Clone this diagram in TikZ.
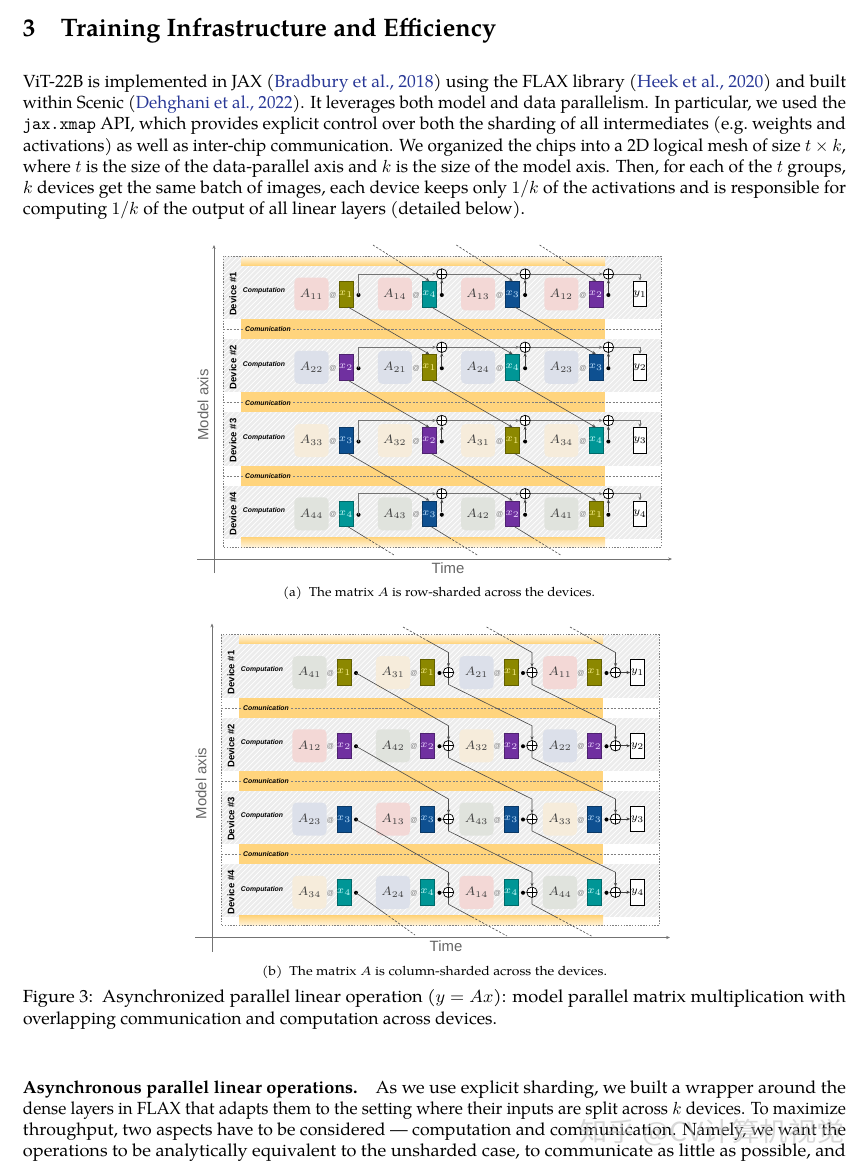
\documentclass[tikz,border=0pt]{standalone}
\usepackage{fontspec}
\setmainfont{texgyrepagella}[Extension=.otf,UprightFont=*-regular,BoldFont=*-bold,ItalicFont=*-italic,BoldItalicFont=*-bolditalic]
\newfontfamily\lsans{Liberation Sans}
\newfontfamily\cjkf{Noto Sans CJK SC}
\usepackage{graphicx}
\usetikzlibrary{arrows.meta,patterns,calc}
\newlength\pxu
\setlength\pxu{0.5698pt}
\newcommand\fitl[2]{\resizebox{#1\pxu}{\height}{#2}}
\definecolor{citeblue}{RGB}{40,55,150}
\newcommand\cc[1]{\textcolor{citeblue}{#1}}
\definecolor{orng}{RGB}{255,212,125}
\definecolor{rowgray}{RGB}{236,236,236}
\definecolor{Acol1}{RGB}{243,216,214}
\definecolor{Acol2}{RGB}{220,224,234}
\definecolor{Acol3}{RGB}{246,236,219}
\definecolor{Acol4}{RGB}{224,227,221}
\definecolor{xcol1}{RGB}{140,136,0}
\definecolor{xcol2}{RGB}{112,48,160}
\definecolor{xcol3}{RGB}{14,80,145}
\definecolor{xcol4}{RGB}{0,150,150}
\definecolor{xlab1}{RGB}{250,240,140}
\definecolor{xlab2}{RGB}{235,215,255}
\definecolor{xlab3}{RGB}{190,225,255}
\definecolor{xlab4}{RGB}{200,250,250}
\begin{document}
\begin{tikzpicture}[x=0.5698pt,y=-0.5698pt,
  txt/.style={anchor=base west,inner sep=0pt,outer sep=0pt},
  Abox/.style={rounded corners=2.5pt,minimum width=19.4pt,minimum height=18.8pt,inner sep=0pt,font=\fontsize{7}{8}\selectfont,text=black!75},
  xbox/.style={minimum width=7.7pt,minimum height=14.6pt,inner sep=0pt,line width=0.3pt,font=\fontsize{6.5}{7}\selectfont},
  ybox/.style={draw=black,fill=white,minimum width=7.8pt,minimum height=14.6pt,inner sep=0pt,line width=0.45pt,font=\fontsize{6.5}{7}\selectfont},
  atsign/.style={font=\lsans\fontsize{4}{4}\selectfont,text=gray,inner sep=0pt},
  dotn/.style={circle,fill=black,minimum size=2.3pt,inner sep=0pt},
  plusn/.style={circle,draw=black,fill=white,line width=0.4pt,minimum size=6pt,inner sep=0pt,
    path picture={\draw[line width=0.35pt] (path picture bounding box.north) -- (path picture bounding box.south) (path picture bounding box.west) -- (path picture bounding box.east);}},
  devlab/.style={font=\lsans\bfseries\fontsize{5.4}{6}\selectfont,inner sep=0pt},
  complab/.style={font=\lsans\bfseries\itshape\fontsize{3.9}{4}\selectfont,inner sep=0pt},
  commlab/.style={font=\lsans\bfseries\itshape\fontsize{3.9}{4}\selectfont,inner sep=1pt,fill=orng},
  axlab/.style={font=\lsans\fontsize{8.5}{9}\selectfont,text=black!60,inner sep=0pt},
  axisl/.style={line width=0.45pt,draw=black!55},
  commdash/.style={line width=0.4pt,draw=black!50,dash pattern=on 1.2pt off 0.8pt},
  boxdot/.style={line width=0.4pt,draw=black!50,dash pattern=on 0.8pt off 0.8pt},
  arr/.style={-{Stealth[length=2.2pt,width=1.8pt]}},
  dsh/.style={dash pattern=on 1.3pt off 0.9pt},
  diagl/.style={line width=0.35pt,draw=black!70},
  thinl/.style={line width=0.35pt,draw=black!75},
  sumline/.style={line width=0.5pt,draw=black!55}]
\fill[white] (0,0) rectangle (866,1173);
\useasboundingbox (0,0) rectangle (866,1173);

% ---------------- text ----------------
\node[txt] (head) at (23,37) {\fitl{473}{\fontsize{14.4}{17}\selectfont\bfseries 3\hspace{1em}Training Infrastructure and Efficiency}};
\node[txt] (p1) at (23,88) {\fitl{823}{ViT-22B is implemented in JAX (\cc{Bradbury et al., 2018}) using the FLAX library (\cc{Heek et al., 2020}) and built}};
\node[txt] (p2) at (23,109) {\fitl{823}{within Scenic (\cc{Dehghani et al., 2022}). It leverages both model and data parallelism. In particular, we used the}};
\node[txt] (p3) at (23,130) {\fitl{823}{\texttt{jax.xmap} API, which provides explicit control over both the sharding of all intermediates (e.g.\ weights and}};
\node[txt] (p4) at (23,151) {\fitl{823}{activations) as well as inter-chip communication. We organized the chips into a 2D logical mesh of size $t\times k$,}};
\node[txt] (p5) at (23,172) {\fitl{823}{where $t$ is the size of the data-parallel axis and $k$ is the size of the model axis. Then, for each of the $t$ groups,}};
\node[txt] (p6) at (23,193) {\fitl{823}{$k$ devices get the same batch of images, each device keeps only $1/k$ of the activations and is responsible for}};
\node[txt] (p7) at (23,214) {\fitl{502}{computing $1/k$ of the output of all linear layers (detailed below).}};

\node[txt] (capa) at (283,596) {\fitl{312}{\fontsize{7.3}{9}\selectfont (a)~~The matrix $A$ is row-sharded across the devices.}};
\node[txt] (capb) at (262,975) {\fitl{345}{\fontsize{7.3}{9}\selectfont (b)~~The matrix $A$ is column-sharded across the devices.}};
\node[txt] (f1) at (23,1002) {\fitl{823}{Figure 3:~~Asynchronized parallel linear operation ($y = Ax$): model parallel matrix multiplication with}};
\node[txt] (f2) at (23,1024) {\fitl{474}{overlapping communication and computation across devices.}};

\node[txt] (q1) at (23,1093) {\fitl{823}{\textbf{Asynchronous parallel linear operations.}\quad As we use explicit sharding, we built a wrapper around the}};
\node[txt] (q2) at (23,1114) {\fitl{823}{dense layers in FLAX that adapts them to the setting where their inputs are split across $k$ devices. To maximize}};
\node[txt] (q3) at (23,1135) {\fitl{823}{throughput, two aspects have to be considered --- computation and communication. Namely, we want the}};
\node[txt] (q4) at (23,1156) {\fitl{823}{operations to be analytically equivalent to the unsharded case, to communicate as little as possible, and}};

% ---------------- diagram backgrounds ----------------
\foreach \oy/\ox/\dg in {0/0/a,378.5/-2/b}{
  \pgfmathsetmacro\xL{223+\ox}
  \pgfmathsetmacro\xR{661+\ox}
  \pgfmathsetmacro\oL{241+\ox}
  \pgfmathsetmacro\oR{605+\ox}
  \foreach \dd in {1,...,4}{
    \pgfmathsetmacro\cy{294+73.25*(\dd-1)+\oy}
    \pgfmathsetmacro\tp{\dd==1 ? 256+\oy : \cy-28.25}
    \pgfmathsetmacro\bt{\cy+25}
    \fill[rowgray] (\xL,\tp) rectangle (\xR,\bt);
    \fill[pattern=north east lines,pattern color=white] (\xL,\tp) rectangle (\xR,\bt);
  }
  \shade[top color=orng!25,bottom color=orng] (\oL,257+\oy) rectangle (\oR,265+\oy);
  \shade[top color=orng,bottom color=orng!25] (\oL,537.25+\oy) rectangle (\oR,547+\oy);
  \foreach \dd in {1,2,3}{
    \pgfmathsetmacro\cy{294+73.25*(\dd-1)+\oy}
    \fill[orng] (\oL,\cy+25) rectangle (\oR,\cy+45);
    \draw[commdash] (\xL,\cy+35.5) -- (\xR,\cy+35.5);
    \node[commlab] (\dg comm\dd) at (\oL+27,\cy+35.5) {Comunication};
  }
  \foreach \dd in {1,...,4}{
    \pgfmathsetmacro\cy{294+73.25*(\dd-1)+\oy}
    \node[devlab,rotate=90] (\dg dev\dd) at (233+\ox,\cy) {Device \#\dd};
    \node[complab] (\dg cmp\dd) at (264+\ox,\cy-3) {Computation};
  }
  \draw[boxdot] (\xL,256+\oy) rectangle (\xR,547+\oy);
  \draw[axisl,arr] (214+\ox,573+\oy) -- (214+\ox,245+\oy);
  \draw[axisl,arr] (197+\ox,559+\oy) -- (672+\ox,559+\oy);
  \node[axlab,rotate=90] (\dg ylab) at (203+\ox,405+\oy) {Model axis};
  \node[axlab] (\dg xlab) at (448+\ox,568+\oy) {Time};
}

% ---------------- diagram (a) ----------------
\foreach \dd in {1,...,4}{
  \pgfmathsetmacro\cy{294+73.25*(\dd-1)}
  \foreach \bb in {0,...,3}{
    \pgfmathtruncatemacro\xn{mod(\dd-1-\bb+8,4)+1}
    \pgfmathsetmacro\xx{83.3*\bb}
    \node[Abox,fill=Acol\dd] (aA\dd\bb) at (311.5+\xx,\cy) {$A_{\dd\xn}$};
    \node[atsign] (aat\dd\bb) at (333+\xx,\cy+1) {@};
    \node[xbox,fill=xcol\xn,draw=xcol\xn!70!black,text=xlab\xn] (ax\dd\bb) at (346+\xx,\cy) {$x_{\xn}$};
    \node[dotn] (adot\dd\bb) at (358.5+\xx,\cy+1) {};
    \ifnum\bb>0 \node[plusn] (ap\dd\bb) at (358.5+\xx,\cy-20) {}; \fi
  }
  \node[ybox] (ay\dd) at (640,\cy) {$y_{\dd}$};
}
\foreach \dd in {1,...,4}{
  \draw[sumline,arr] (adot\dd0.center) |- (ap\dd1.west);
  \draw[sumline,arr] (ap\dd1) -- (ap\dd2);
  \draw[sumline,arr] (ap\dd2) -- (ap\dd3);
  \draw[sumline,arr] (ap\dd3) -| (ay\dd.north);
  \foreach \bb in {1,2,3}{\draw[thinl,arr] (adot\dd\bb) -- (ap\dd\bb);}
}
\foreach \dd in {1,2,3}{
  \pgfmathtruncatemacro\dn{\dd+1}
  \foreach \bb in {0,1,2}{
    \pgfmathtruncatemacro\bn{\bb+1}
    \draw[diagl,arr] ([xshift=1.2pt]ax\dd\bb.south) -- (ax\dn\bn.north);
  }
}
\foreach \bb in {1,2,3}{
  \coordinate (atop\bb) at (373+83.3*\bb-83.3,245);
  \coordinate (atm\bb) at ($(atop\bb)!0.5!(ax1\bb.north)$);
  \draw[diagl,dsh] (atop\bb) -- (atm\bb);
  \draw[diagl,arr] (atm\bb) -- (ax1\bb.north);
}
\foreach \bb in {0,1,2}{
  \coordinate (abot\bb) at (394+83.3*\bb,555);
  \coordinate (abm\bb) at ($([xshift=1.2pt]ax4\bb.south)!0.38!(abot\bb)$);
  \draw[diagl] ([xshift=1.2pt]ax4\bb.south) -- (abm\bb);
  \draw[diagl,dsh] (abm\bb) -- (abot\bb);
}

% ---------------- diagram (b) ----------------
\foreach \dd in {1,...,4}{
  \pgfmathsetmacro\cy{672.5+73.25*(\dd-1)}
  \foreach \bb in {0,...,3}{
    \pgfmathtruncatemacro\rn{mod(\dd-2-\bb+8,4)+1}
    \pgfmathsetmacro\xx{83.5*\bb}
    \node[Abox,fill=Acol\rn] (bA\dd\bb) at (309.5+\xx,\cy) {$A_{\rn\dd}$};
    \node[atsign] (bat\dd\bb) at (330.5+\xx,\cy+1) {@};
    \node[xbox,fill=xcol\dd,draw=xcol\dd!70!black,text=xlab\dd] (bx\dd\bb) at (344+\xx,\cy) {$x_{\dd}$};
    \node[dotn] (bdot\dd\bb) at (356+\xx,\cy+0.5) {};
    \ifnum\bb>0
      \node[plusn] (bp\dd\bb) at (365+\xx,\cy) {};
      \coordinate (bk\dd\bb) at (365+\xx,\cy-20);
      \coordinate (bs\dd\bb) at (365+\xx,\cy+12);
    \fi
  }
  \node[ybox] (by\dd) at (637.5,\cy) {$y_{\dd}$};
}
\foreach \dd in {1,...,4}{
  \foreach \bb in {1,2,3}{\draw[thinl] (bdot\dd\bb) -- (bp\dd\bb);}
  \draw[thinl,arr] (bp\dd3) -- (by\dd);
}
\foreach \dd in {1,2,3}{
  \pgfmathtruncatemacro\dn{\dd+1}
  \draw[diagl,arr] (bdot\dd0.center) -- (bk\dn1) -- (bp\dn1.north);
  \foreach \bb in {1,2}{
    \pgfmathtruncatemacro\bn{\bb+1}
    \draw[diagl,arr] (bp\dd\bb.south) -- (bs\dd\bb) -- (bk\dn\bn) -- (bp\dn\bn.north);
  }
}
\foreach \bb in {1,2,3}{
  \coordinate (btop\bb) at (403+83.5*\bb-83.5,627);
  \coordinate (btm\bb) at ($(btop\bb)!0.55!(bk1\bb)$);
  \draw[diagl,dsh] (btop\bb) -- (btm\bb);
  \draw[diagl,arr] (btm\bb) -- (bk1\bb) -- (bp1\bb.north);
}
\coordinate (bbot0) at (415,935);
\coordinate (bbm0) at ($(bdot40.center)!0.5!(bbot0)$);
\draw[diagl] (bdot40.center) -- (bbm0);
\draw[diagl,dsh] (bbm0) -- (bbot0);
\foreach \bb in {1,2}{
  \coordinate (bbot\bb) at (507+84.5*\bb-84.5,936);
  \coordinate (bbm\bb) at ($(bs4\bb)!0.4!(bbot\bb)$);
  \draw[diagl] (bp4\bb.south) -- (bs4\bb) -- (bbm\bb);
  \draw[diagl,dsh] (bbm\bb) -- (bbot\bb);
}

% watermark
\node[opacity=0.6,text=gray!50,inner sep=0pt] (wm) at (712,1133) {\fitl{265}{\cjkf\fontsize{15}{15}\selectfont 知乎 @CV计算机视觉}};
\end{tikzpicture}
\end{document}
